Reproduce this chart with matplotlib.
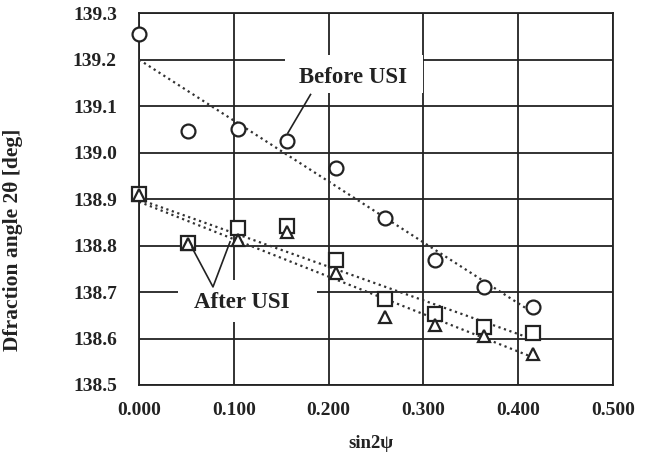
import numpy as np
import matplotlib.pyplot as plt
from matplotlib.patches import Rectangle

# === Data
sin2psi = [0.0, 0.052, 0.104, 0.156, 0.208, 0.260, 0.312, 0.364, 0.416]
before_usi = [139.255, 139.046, 139.050, 139.025, 138.966, 138.859, 138.769, 138.711, 138.667]
after_sq = [138.910, 138.805, 138.837, 138.842, 138.770, 138.686, 138.652, 138.625, 138.612]
after_tri = [138.908, 138.803, 138.813, 138.830, 138.740, 138.646, 138.630, 138.605, 138.566]

x_ticks = [0.0, 0.1, 0.2, 0.3, 0.4, 0.5]
y_ticks = [138.5, 138.6, 138.7, 138.8, 138.9, 139.0, 139.1, 139.2, 139.3]

plt.rcParams["font.family"] = ["Liberation Serif", "DejaVu Serif"]
plt.rcParams["font.weight"] = "bold"

fig = plt.figure(figsize=(6.47, 4.54), dpi=100)
ax = fig.add_axes([0.215, 0.152, 0.732, 0.819])

# === Linear trendlines (dotted)
x = np.array(sin2psi)
xx = np.array([x.min(), x.max()])
for ys in (before_usi, after_sq, after_tri):
    k, b = np.polyfit(x, ys, 1)
    ax.plot(xx, k * xx + b, color="#333333", lw=1.6, ls=(0, (1, 1.6)), zorder=3)

mk = dict(mfc="white", mec="#222222", mew=1.6, ls="none", zorder=4, clip_on=False)
ax.plot(sin2psi, before_usi, marker="o", ms=10, **mk)
ax.plot(sin2psi, after_sq, marker="s", ms=9.5, **mk)
ax.plot(sin2psi, after_tri, marker="^", ms=8.5, **mk)

# === Labels with white boxes over the grid
ax.add_patch(Rectangle((0.1545, 139.128), 0.145, 0.082, fc="white", ec="none", zorder=2))
ax.text(0.2254, 139.162, "Before USI", ha="center", va="center", fontsize=16.5,
        fontweight="bold", color="#222222", zorder=5)
ax.plot([0.181, 0.157], [139.125, 139.042], color="#222222", lw=1.2, zorder=5)

ax.add_patch(Rectangle((0.041, 138.635), 0.147, 0.091, fc="white", ec="none", zorder=2))
ax.text(0.108, 138.678, "After USI", ha="center", va="center", fontsize=16.5,
        fontweight="bold", color="#222222", zorder=5)
ax.plot([0.056, 0.078, 0.096], [138.795, 138.711, 138.808], color="#222222", lw=1.2, zorder=5)

ax.set_xlim(0, 0.5)
ax.set_ylim(138.5, 139.3)
ax.set_xticks(x_ticks)
ax.set_yticks(y_ticks)
ax.set_xticklabels([f"{v:.3f}" for v in x_ticks])
ax.set_yticklabels([f"{v:.1f}" for v in y_ticks])
ax.tick_params(axis="y", length=0, labelsize=14, pad=16, labelcolor="#222222")
ax.tick_params(axis="x", length=0, labelsize=14, pad=12, labelcolor="#222222")
for lab in ax.get_xticklabels() + ax.get_yticklabels():
    lab.set_fontweight("bold")
ax.grid(True, color="#222222", lw=1.3, zorder=1)
ax.set_axisbelow(True)
for s in ax.spines.values():
    s.set_color("#222222")
    s.set_linewidth(1.3)

ax.set_xlabel("sin2ψ", fontsize=13.5, fontweight="bold", color="#222222")
ax.set_ylabel("Dfraction angle 2θ [deg]", fontsize=15.5, fontweight="bold", color="#222222")
ax.xaxis.set_label_coords(0.49, -0.135)
ax.yaxis.set_label_coords(-0.245, 0.39)

plt.savefig("out.png", dpi=100)
plt.close()
